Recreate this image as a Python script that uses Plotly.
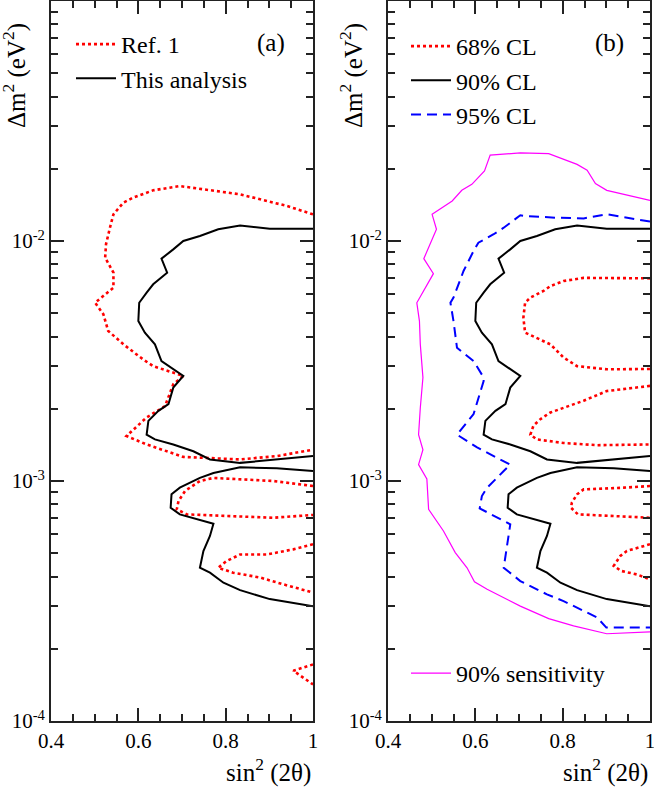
import plotly.graph_objects as go

FONT = "Liberation Serif, Times New Roman, Times, serif"

# ---------------- data ----------------
x_ticks = [0.4, 0.6, 0.8, 1.0]
x_ticklabels = ["0.4", "0.6", "0.8", "1"]
x_minor = [0.45, 0.5, 0.55, 0.65, 0.7, 0.75, 0.85, 0.9, 0.95]
y_ticks = [1e-4, 1e-3, 1e-2]
y_ticklabels = ["10<sup>-4</sup>", "10<sup>-3</sup>", "10<sup>-2</sup>"]
y_minor = [m * d for d in (1e-4, 1e-3, 1e-2) for m in range(2, 10)]

# Ref. 1 (dotted red, panel a)
ref1_c1_x = [1.0, 0.94, 0.833, 0.695, 0.634, 0.588, 0.566, 0.543, 0.535, 0.526, 0.524, 0.543, 0.543,
             0.501, 0.520, 0.531, 0.566, 0.611, 0.634, 0.703, 0.680, 0.672, 0.661, 0.619, 0.573,
             0.619, 0.703, 0.833, 0.917, 1.0]
ref1_c1_y = [0.01292, 0.0140, 0.01565, 0.01694, 0.01626, 0.01516, 0.01445, 0.01292, 0.01136, 0.00969,
             0.00852, 0.00738, 0.00639, 0.00553, 0.00495, 0.00422, 0.00371, 0.00321, 0.00301, 0.00274,
             0.00253, 0.00230, 0.00205, 0.00184, 0.00154, 0.00142, 0.00126, 0.00123, 0.00127, 0.00135]
ref1_c2_x = [1.0, 0.909, 0.772, 0.741, 0.707, 0.692, 0.688, 0.711, 0.802, 0.909, 1.0]
ref1_c2_y = [0.000953, 0.001, 0.00103, 0.001, 0.000909, 0.000825, 0.000762, 0.000726, 0.000715,
             0.000703, 0.000722]
ref1_c3_x = [1.0, 0.955, 0.894, 0.833, 0.802, 0.783, 0.817, 0.879, 0.932, 1.0]
ref1_c3_y = [0.000545, 0.000519, 0.000494, 0.000494, 0.000464, 0.000435, 0.000415, 0.000396,
             0.000371, 0.000343]
ref1_c4_x = [1.0, 0.955, 1.0]
ref1_c4_y = [0.000172, 0.000162, 0.000142]

# This analysis / 90% CL (black solid)
cl90_c1_x = [1.0, 0.901, 0.833, 0.783, 0.741, 0.703, 0.680, 0.653, 0.666, 0.634, 0.619, 0.602, 0.600,
             0.615, 0.638, 0.653, 0.703, 0.680, 0.669, 0.646, 0.623, 0.619, 0.638, 0.680, 0.726,
             0.764, 0.833, 0.917, 1.0]
cl90_c1_y = [0.01125, 0.01125, 0.01161, 0.01119, 0.01049, 0.0100, 0.00923, 0.00844, 0.00738, 0.00660,
             0.00609, 0.00553, 0.00464, 0.00415, 0.00371, 0.00316, 0.00274, 0.00245, 0.00209, 0.00196,
             0.00178, 0.00156, 0.00149, 0.00142, 0.00133, 0.00123, 0.00119, 0.00123, 0.00127]
cl90_c2_x = [1.0, 0.917, 0.833, 0.772, 0.741, 0.711, 0.695, 0.676, 0.674, 0.695, 0.772, 0.764, 0.749,
             0.741, 0.764, 0.795, 0.833, 0.901, 1.0]
cl90_c2_y = [0.0011, 0.00113, 0.00114, 0.00108, 0.00103, 0.000969, 0.000938, 0.000880, 0.000774,
             0.000726, 0.000664, 0.000590, 0.000511, 0.000435, 0.000415, 0.000377, 0.000351,
             0.000322, 0.000301]

# 68% CL (red dotted, panel b)
cl68_c1_x = [1.0, 0.901, 0.848, 0.802, 0.772, 0.756, 0.726, 0.714, 0.710, 0.714, 0.741, 0.772, 0.802,
             0.833, 0.901, 1.0]
cl68_c1_y = [0.00699, 0.00702, 0.00702, 0.00681, 0.00649, 0.00619, 0.00581, 0.00553, 0.00479, 0.00415,
             0.00395, 0.00371, 0.00327, 0.00301, 0.00292, 0.00293]
cl68_c2_x = [1.0, 0.901, 0.848, 0.802, 0.772, 0.749, 0.733, 0.726, 0.741, 0.802, 0.879, 1.0]
cl68_c2_y = [0.00249, 0.00237, 0.00216, 0.00202, 0.00193, 0.00181, 0.00170, 0.00156, 0.00149, 0.00144,
             0.00141, 0.00142]
cl68_c3_x = [1.0, 0.940, 0.848, 0.833, 0.821, 0.819, 0.835, 0.901, 1.0]
cl68_c3_y = [0.000953, 0.000938, 0.000923, 0.000880, 0.000812, 0.000774, 0.000726, 0.000715, 0.000703]
cl68_c4_x = [1.0, 0.947, 0.932, 0.917, 0.934, 0.970, 1.0]
cl68_c4_y = [0.000545, 0.000511, 0.000487, 0.000443, 0.000422, 0.000408, 0.000389]

# 95% CL (blue dashed)
cl95_x = [1.0, 0.901, 0.848, 0.787, 0.714, 0.703, 0.665, 0.642, 0.607, 0.596, 0.573, 0.550, 0.543,
          0.550, 0.558, 0.596, 0.619, 0.619, 0.596, 0.558, 0.604, 0.680, 0.665, 0.642, 0.627, 0.615,
          0.610, 0.680, 0.665, 0.703, 0.764, 0.802, 0.848, 0.879, 0.900, 1.0]
cl95_y = [0.01205, 0.01292, 0.01242, 0.01250, 0.01271, 0.01280, 0.01136, 0.01067, 0.00984, 0.00909,
          0.00750, 0.00581, 0.00553, 0.00464, 0.00359, 0.00316, 0.00270, 0.00261, 0.00190, 0.00156,
          0.00138, 0.00117, 0.00110, 0.00100, 0.000938, 0.000866, 0.000769, 0.000660, 0.000435,
          0.000383, 0.000337, 0.000316, 0.000287, 0.000270, 0.000245, 0.000245]

# 90% sensitivity (magenta)
sens_x = [1.0, 0.901, 0.875, 0.856, 0.833, 0.768, 0.703, 0.634, 0.621, 0.592, 0.569, 0.547, 0.501,
          0.511, 0.482, 0.504, 0.466, 0.472, 0.474, 0.480, 0.474, 0.470, 0.480, 0.470, 0.489, 0.493,
          0.527, 0.554, 0.581, 0.598, 0.627, 0.703, 0.768, 0.825, 0.901, 1.0]
sens_y = [0.01477, 0.01626, 0.01734, 0.01972, 0.02085, 0.02311, 0.02327, 0.02281, 0.01958, 0.01722,
          0.01626, 0.01468, 0.01292, 0.01119, 0.00844, 0.00731, 0.00553, 0.00464, 0.00371, 0.00270,
          0.00202, 0.00156, 0.00135, 0.00117, 0.00102, 0.000762, 0.000619, 0.000503, 0.000435,
          0.000380, 0.000354, 0.000301, 0.000267, 0.000249, 0.000231, 0.000235]

# ---------------- figure ----------------
RED = "#ff0000"
BLACK = "#000000"
BLUE = "#0000ff"
MAGENTA = "#ff00ff"

fig = go.Figure()


def add(x, y, xa, ya, color, width, dash, name, legend, show):
    fig.add_trace(go.Scatter(
        x=x, y=y, xaxis=xa, yaxis=ya, mode="lines",
        line=dict(color=color, width=width, dash=dash),
        name=name, legend=legend, showlegend=show, hoverinfo="skip"))


# panel (a)
for i, (xx, yy) in enumerate([(ref1_c1_x, ref1_c1_y), (ref1_c2_x, ref1_c2_y),
                              (ref1_c3_x, ref1_c3_y), (ref1_c4_x, ref1_c4_y)]):
    add(xx, yy, "x", "y", RED, 2.6, "dot", "Ref. 1", "legend", i == 0)
for i, (xx, yy) in enumerate([(cl90_c1_x, cl90_c1_y), (cl90_c2_x, cl90_c2_y)]):
    add(xx, yy, "x", "y", BLACK, 2, "solid", "This analysis", "legend", i == 0)

# panel (b)
for i, (xx, yy) in enumerate([(cl68_c1_x, cl68_c1_y), (cl68_c2_x, cl68_c2_y),
                              (cl68_c3_x, cl68_c3_y), (cl68_c4_x, cl68_c4_y)]):
    add(xx, yy, "x2", "y2", RED, 2.6, "dot", "68% CL", "legend2", i == 0)
for i, (xx, yy) in enumerate([(cl90_c1_x, cl90_c1_y), (cl90_c2_x, cl90_c2_y)]):
    add(xx, yy, "x2", "y2", BLACK, 2, "solid", "90% CL", "legend2", i == 0)
add(cl95_x, cl95_y, "x2", "y2", BLUE, 2, "10px,6px", "95% CL", "legend2", True)
add(sens_x, sens_y, "x2", "y2", MAGENTA, 1.2, "solid", "90% sensitivity", "legend3", True)

AX = "#222222"


def xaxis(domain, anchor):
    return dict(
        domain=domain, anchor=anchor, range=[0.4, 1.0], automargin=False,
        tickvals=x_ticks, ticktext=x_ticklabels, ticklabeloverflow="allow",
        ticks="inside", ticklen=13, tickwidth=1.6, tickcolor=AX,
        showline=True, linecolor=AX, linewidth=1.8, mirror="ticks",
        showgrid=False, zeroline=False,
        minor=dict(tickvals=x_minor, ticks="inside", ticklen=7, tickwidth=1.6,
                   tickcolor=AX, showgrid=False),
        tickfont=dict(family=FONT, size=21, color="black"),
        ticklabelstandoff=0,
    )


def yaxis(anchor):
    return dict(
        type="log", anchor=anchor, range=[-4, -1], domain=[0, 1], automargin=False,
        tickvals=y_ticks, ticktext=y_ticklabels, ticklabeloverflow="allow",
        ticks="inside", ticklen=13, tickwidth=1.6, tickcolor=AX,
        showline=True, linecolor=AX, linewidth=1.8, mirror="ticks",
        showgrid=False, zeroline=False,
        minor=dict(tickvals=y_minor, ticks="inside", ticklen=7, tickwidth=1.6,
                   tickcolor=AX, showgrid=False),
        tickfont=dict(family=FONT, size=21, color="black"),
    )


W, H = 654, 788
ML, MR, MT, MB = 51, 4, 1, 67
PW = W - ML - MR
PH = H - MT - MB
dom_a = [0, 262 / PW]
dom_b = [337 / PW, 1]


def py(pix):
    return 1 - (pix - MT) / PH


def px(pix):
    return (pix - ML) / PW


legend_common = dict(
    xanchor="left", yanchor="top", bgcolor="rgba(0,0,0,0)",
    font=dict(family=FONT, size=24, color="black"),
    tracegroupgap=0, itemwidth=40, borderwidth=0,
)

annos = []
title_font = dict(family=FONT, size=25, color="black")
for xd, yd in (("x domain", "y domain"), ("x2 domain", "y2 domain")):
    annos.append(dict(text="Δm<sup>2</sup> (eV<sup>2</sup>)", textangle=-90,
                      xref=xd, yref=yd, x=-36 / 262, y=py(76),
                      xanchor="center", yanchor="middle", showarrow=False, font=title_font))
    annos.append(dict(text="sin<sup>2</sup> (2θ)", xref=xd, yref=yd, x=1.0, y=py(770),
                      xanchor="right", yanchor="middle", showarrow=False, font=title_font))
annos.append(dict(text="(a)", xref="x domain", yref="y domain", x=(271 - 51) / 262, y=py(43),
                  xanchor="center", yanchor="middle", showarrow=False, font=title_font))
annos.append(dict(text="(b)", xref="x2 domain", yref="y2 domain", x=(609 - 388) / 262, y=py(43),
                  xanchor="center", yanchor="middle", showarrow=False, font=title_font))

fig.update_layout(
    width=W, height=H,
    margin=dict(l=ML, r=MR, t=MT, b=MB, autoexpand=False),
    paper_bgcolor="white", plot_bgcolor="white",
    font=dict(family=FONT, color="black"),
    xaxis=xaxis(dom_a, "y"), yaxis=yaxis("x"),
    xaxis2=xaxis(dom_b, "y2"), yaxis2=yaxis("x2"),
    legend=dict(x=px(71), y=py(22), **legend_common),
    legend2=dict(x=px(406), y=py(24), **legend_common),
    legend3=dict(x=px(406), y=py(651), **legend_common),
    annotations=annos,
    showlegend=True,
)

fig.write_html("out.html", config={"displayModeBar": False},
               post_script="document.body.style.margin='0px';document.body.style.padding='0px';")
